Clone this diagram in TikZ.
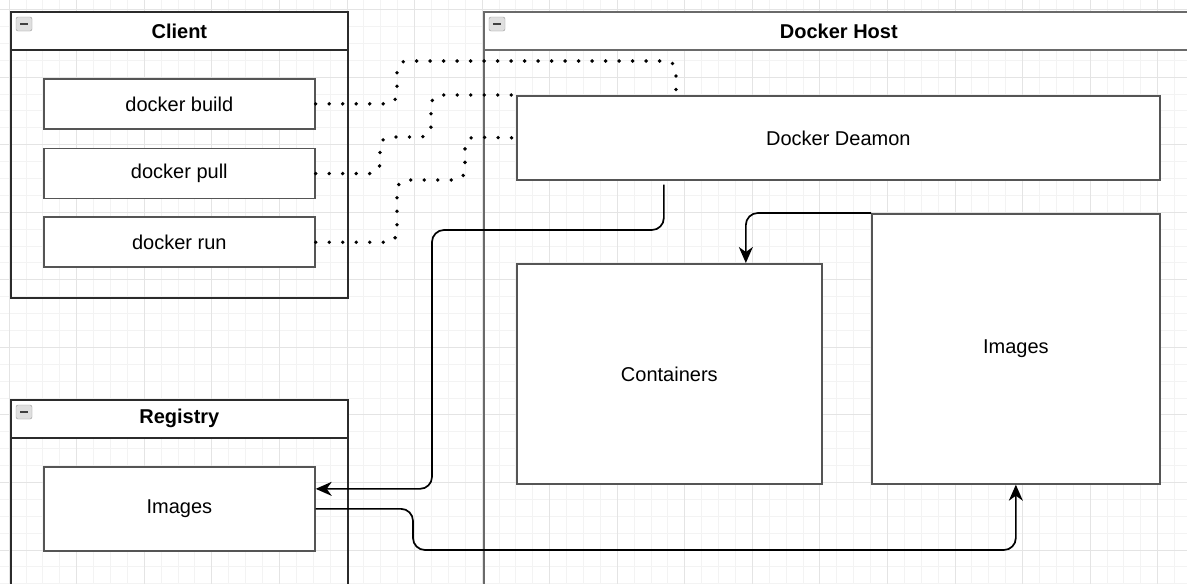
\documentclass[tikz,border=0pt]{standalone}
\usepackage{fontspec}
\setmainfont{Liberation Sans}
\usetikzlibrary{positioning, calc, arrows.meta}
\definecolor{gridminor}{HTML}{F3F3F3}
\definecolor{gridmajor}{HTML}{E4E4E4}
\definecolor{poolline}{HTML}{2B2B2B}
\definecolor{hostline}{HTML}{6A6A6A}
\definecolor{boxline}{HTML}{555555}
\tikzset{
  gridfine/.style={draw=gridminor, line width=1pt, step=16.89pt},
  gridbold/.style={draw=gridmajor, line width=1pt, step=67.56pt},
  pool/.style={draw=poolline, line width=1.7pt, anchor=north west, inner sep=0},
  poolhead/.style={draw=poolline, fill=white, line width=1.7pt, minimum height=38pt, inner sep=0, anchor=north, font=\fontsize{20}{24}\selectfont\bfseries},
  cmd/.style={draw=boxline, fill=white, line width=1.7pt, minimum width=271pt, minimum height=50pt, inner sep=0, font=\fontsize{20}{24}\selectfont},
  collapse/.style={draw=gray!80, fill=gray!25, rounded corners=2pt, minimum width=16pt, minimum height=14pt, inner sep=0},
  dotline/.style={draw=black, line width=3.8pt, line cap=round, dash pattern=on 0pt off 13.5pt, rounded corners=10pt},
  flow/.style={-{Stealth[length=16pt, width=14pt, inset=5pt]}, draw=black, line width=1.7pt, rounded corners=12pt}
}
\begin{document}
\begin{tikzpicture}[x=1pt, y=-1pt]
  \useasboundingbox (0,0) rectangle (1187,584);
  \clip (0,0) rectangle (1187,584);
  \begin{scope}[shift={(9.2,9.6)}]
    \draw[gridfine] (-20,600) grid (1200,-20);
    \draw[gridbold] (-70,600) grid (1200,-70);
  \end{scope}

  \node[pool, minimum width=337pt, minimum height=286pt] (client) at (10,11) {};
  \node[poolhead, minimum width=337pt] (clienthead) at (client.north) {Client};
  \node[collapse] (clienticon) at ([xshift=14pt, yshift=-13pt]client.north west) {\color{black!75}\rule{8pt}{2.2pt}};
  \node[cmd, anchor=north west] (build) at (43,78) {docker build};
  \node[cmd, below=18pt of build] (pull) {docker pull};
  \node[cmd, below=17pt of pull] (run) {docker run};

  \node[pool, minimum width=337pt, minimum height=220pt] (registry) at (10,399) {};
  \node[poolhead, minimum width=337pt] (registryhead) at (registry.north) {Registry};
  \node[collapse] (registryicon) at ([xshift=14pt, yshift=-13pt]registry.north west) {\color{black!75}\rule{8pt}{2.2pt}};
  \node[cmd, minimum height=84pt, anchor=north west] (regimages) at (43,466) {Images};

  \node[pool, draw=hostline, minimum width=710pt, minimum height=620pt] (host) at (483,11) {};
  \node[poolhead, draw=hostline, minimum width=710pt] (hosthead) at (host.north) {Docker Host};
  \node[collapse] (hosticon) at ([xshift=14pt, yshift=-13pt]host.north west) {\color{black!75}\rule{8pt}{2.2pt}};
  \node[cmd, minimum width=643pt, minimum height=84pt, anchor=north west] (deamon) at (516,95) {Docker Deamon};
  \node[cmd, minimum width=305pt, minimum height=220pt, anchor=north west] (containers) at (516,263) {Containers};
  \node[cmd, minimum width=288pt, minimum height=270pt, anchor=north west] (hostimages) at (871,213) {Images};

  \draw[dotline] (build.east) -| (397,61) -| ([xshift=160pt]deamon.north west);
  \draw[dotline] (pull.east) -| (380,137) -| (431,95) -- (deamon.north west);
  \draw[dotline] (run.east) -| (397,180) -| (465,137) -- (deamon.west);

  \draw[flow, shorten <=4pt] ([xshift=-174.5pt]deamon.south) |- (432,230) |- ([yshift=20pt]regimages.east);
  \draw[flow] (hostimages.north west) -| ([xshift=76.5pt]containers.north);
  \draw[flow] (regimages.east) -| (413,550) -| (hostimages.south);
\end{tikzpicture}
\end{document}
